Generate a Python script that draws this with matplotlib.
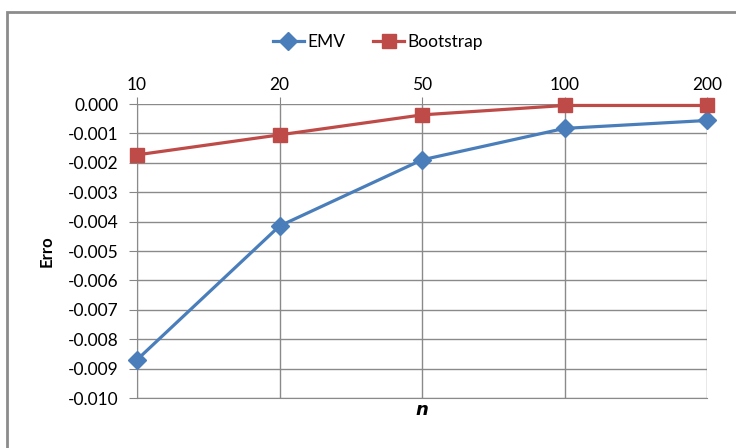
import matplotlib
matplotlib.use('Agg')
import matplotlib.pyplot as plt
from matplotlib.patches import Rectangle
import numpy as np

# dados do gráfico
n_labels = ['10', '20', '50', '100', '200']
emv = [-0.0087, -0.00415, -0.0019, -0.00083, -0.00056]
bootstrap = [-0.00173, -0.00105, -0.00037, -0.00005, -0.00005]
yticks = np.round(np.arange(-0.010, 0.0001, 0.001), 3)

plt.rcParams['font.family'] = ['Lato', 'DejaVu Sans']

fig = plt.figure(figsize=(7.36, 4.48), dpi=100)
# moldura do gráfico (estilo Excel)
fig.patches.append(Rectangle((7 / 736, -0.1), 1.2, 1.1 - 12 / 448, transform=fig.transFigure,
                             fill=False, edgecolor='#8c8c8c', linewidth=2))

ax = fig.add_axes([137 / 736, 1 - 398 / 448, 570 / 736, 294 / 448])
x = np.arange(len(n_labels))

ax.plot(x, emv, color='#4A7EBB', linewidth=2.3, marker='D', markersize=9,
        label='EMV', zorder=3, clip_on=False)
ax.plot(x, bootstrap, color='#BE4B48', linewidth=2.3, marker='s', markersize=10,
        label='Bootstrap', zorder=3, clip_on=False)

ax.set_xlim(0, len(n_labels) - 1)
ax.set_ylim(-0.010, 0.000)
ax.set_yticks(yticks)
ax.set_yticklabels(['0.000' if abs(v) < 1e-9 else '%.3f' % v for v in yticks])
ax.set_xticks(x)
ax.set_xticklabels(n_labels)
ax.xaxis.tick_top()
ax.tick_params(axis='x', direction='out', length=5, color='#868686', labelsize=12.5, pad=3)
ax.tick_params(axis='y', direction='out', length=6, color='#868686', labelsize=12.5, pad=7.5)

ax.grid(True, color='#8a8a8a', linewidth=1)
ax.set_axisbelow(True)
for s in ['top', 'right']:
    ax.spines[s].set_visible(False)
ax.spines['left'].set_color('#8a8a8a')
ax.spines['bottom'].set_color('#8a8a8a')

ax.set_ylabel('Erro', fontweight='bold', fontsize=12, labelpad=9)
ax.set_xlabel('n', fontweight='bold', fontstyle='italic', fontsize=13, labelpad=2,
              family=['DejaVu Sans'])

fig.legend(loc='center', bbox_to_anchor=(378 / 736, 1 - 42 / 448), ncol=2, frameon=False,
           fontsize=12.5, handlelength=1.8, columnspacing=1.6, handletextpad=0.2)

plt.savefig('out.png', dpi=100)
